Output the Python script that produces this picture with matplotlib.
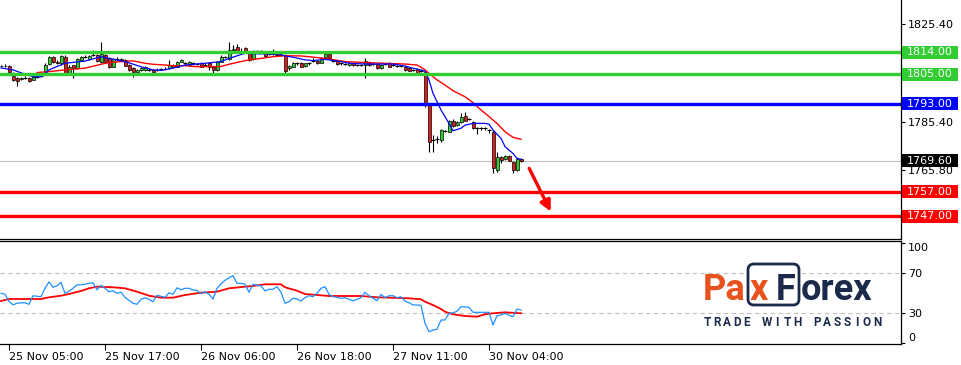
import numpy as np
import matplotlib
matplotlib.use("Agg")
import matplotlib.pyplot as plt
import matplotlib.patches as mpatches
from matplotlib.transforms import blended_transform_factory, IdentityTransform

# ---- data (XAUUSD M30) ----
opens = [
    1808.4, 1808.5, 1808.3, 1804.2, 1803.3, 1803.0, 1803.6, 1803.6, 1802.8, 1804.0,
    1804.1, 1805.2, 1809.2, 1812.2, 1810.0, 1809.5, 1812.2, 1805.6, 1808.6, 1807.4,
    1810.9, 1812.2, 1811.2, 1813.0, 1812.9, 1810.2, 1812.9, 1811.5, 1808.1, 1811.3,
    1811.2, 1810.9, 1808.8, 1807.5, 1806.0, 1806.6, 1806.9, 1806.8, 1806.8, 1806.8,
    1807.0, 1807.2, 1807.5, 1808.8, 1808.1, 1810.2, 1809.5, 1808.8, 1809.6, 1809.1,
    1809.5, 1809.0, 1809.5, 1808.1, 1806.8, 1810.2, 1812.0, 1811.3, 1815.0, 1816.3,
    1814.3, 1815.6, 1814.3, 1811.3, 1814.5, 1814.4, 1813.6, 1813.3, 1813.3, 1813.0,
    1812.9, 1812.9, 1807.6, 1808.1, 1809.5, 1809.8, 1808.4, 1809.5, 1810.6, 1810.6,
    1809.8, 1812.2, 1813.3, 1810.6, 1810.6, 1809.5, 1809.2, 1808.8, 1809.8, 1808.8,
    1808.8, 1808.8, 1810.2, 1809.2, 1809.2, 1807.5, 1809.2, 1809.5, 1808.8, 1808.4,
    1808.4, 1808.1, 1807.5, 1806.8, 1807.0, 1806.5, 1806.1, 1792.4, 1778.1, 1778.4,
    1778.1, 1781.9, 1781.5, 1786.0, 1784.2, 1785.6, 1787.9, 1786.6, 1785.6, 1782.9,
    1782.9, 1782.9, 1782.2, 1781.5, 1765.8, 1771.3, 1770.2, 1771.6, 1769.3, 1765.8,
    1770.2]
highs = [
    1809.0, 1809.3, 1808.6, 1805.8, 1803.8, 1804.0, 1804.2, 1804.0, 1804.6, 1804.8,
    1805.6, 1809.6, 1812.6, 1812.6, 1810.8, 1813.0, 1812.8, 1808.6, 1809.0, 1811.6,
    1812.6, 1812.8, 1813.0, 1815.0, 1813.2, 1818.1, 1813.4, 1812.0, 1811.8, 1811.9,
    1811.6, 1811.2, 1809.2, 1807.8, 1807.2, 1808.0, 1808.2, 1807.4, 1807.1, 1807.4,
    1807.6, 1807.8, 1810.9, 1809.4, 1810.6, 1811.3, 1810.2, 1810.6, 1810.0, 1809.6,
    1810.0, 1809.5, 1809.9, 1808.5, 1810.6, 1812.9, 1812.6, 1818.4, 1817.0, 1817.4,
    1815.6, 1816.0, 1814.7, 1814.8, 1815.0, 1814.8, 1814.0, 1813.8, 1815.2, 1813.6,
    1813.5, 1813.4, 1808.8, 1810.2, 1810.1, 1810.2, 1809.8, 1810.0, 1811.6, 1811.0,
    1811.9, 1813.8, 1813.7, 1811.1, 1811.0, 1810.0, 1809.7, 1810.2, 1810.2, 1809.3,
    1809.2, 1811.5, 1810.6, 1809.7, 1809.6, 1809.2, 1809.7, 1809.9, 1809.3, 1808.9,
    1808.8, 1808.5, 1807.9, 1807.2, 1807.4, 1807.0, 1806.5, 1793.0, 1780.2, 1779.8,
    1782.6, 1782.4, 1786.4, 1786.6, 1786.0, 1789.3, 1789.7, 1787.0, 1786.0, 1783.4,
    1783.4, 1783.3, 1782.8, 1782.0, 1773.3, 1771.7, 1772.0, 1772.0, 1769.7, 1770.6,
    1770.6]
lows = [
    1807.8, 1807.9, 1805.4, 1802.2, 1800.4, 1802.5, 1803.0, 1801.8, 1802.5, 1803.4,
    1803.8, 1805.0, 1808.8, 1809.8, 1809.2, 1809.0, 1804.6, 1805.2, 1803.6, 1807.0,
    1810.5, 1811.6, 1810.8, 1812.4, 1810.2, 1809.8, 1809.8, 1807.6, 1807.8, 1810.6,
    1810.4, 1808.2, 1806.4, 1804.0, 1805.6, 1806.2, 1806.5, 1806.2, 1805.4, 1806.2,
    1806.6, 1806.8, 1807.2, 1807.8, 1807.9, 1809.9, 1809.0, 1808.5, 1808.9, 1808.6,
    1807.8, 1808.4, 1806.8, 1805.4, 1806.5, 1809.9, 1811.5, 1811.0, 1814.6, 1813.8,
    1813.6, 1813.8, 1810.4, 1811.0, 1814.0, 1813.8, 1812.2, 1812.8, 1812.8, 1812.5,
    1812.4, 1805.7, 1806.8, 1807.8, 1809.0, 1807.8, 1808.0, 1809.0, 1810.2, 1809.2,
    1809.5, 1811.8, 1811.2, 1810.1, 1808.8, 1809.0, 1808.7, 1808.5, 1808.4, 1808.3,
    1808.4, 1803.4, 1808.4, 1808.8, 1807.1, 1807.2, 1808.8, 1807.8, 1808.4, 1808.0,
    1807.9, 1806.4, 1806.2, 1806.3, 1805.4, 1806.0, 1791.8, 1773.3, 1773.3, 1776.8,
    1777.4, 1781.4, 1781.2, 1783.5, 1783.9, 1785.2, 1785.7, 1786.2, 1782.6, 1780.6,
    1782.0, 1782.1, 1780.9, 1764.5, 1765.1, 1768.6, 1769.9, 1769.4, 1764.5, 1765.4,
    1769.2]
closes = [
    1808.5, 1808.3, 1806.1, 1802.8, 1802.4, 1803.6, 1803.6, 1802.2, 1804.0, 1804.0,
    1805.0, 1808.8, 1812.2, 1810.2, 1809.6, 1812.6, 1805.4, 1808.0, 1807.4, 1811.2,
    1812.2, 1812.2, 1812.6, 1813.0, 1810.5, 1813.2, 1810.2, 1808.1, 1811.3, 1811.3,
    1810.8, 1808.5, 1806.8, 1805.8, 1806.6, 1807.5, 1807.8, 1806.8, 1805.8, 1806.8,
    1807.0, 1807.2, 1808.8, 1808.0, 1810.2, 1810.9, 1809.5, 1810.2, 1809.6, 1809.1,
    1808.1, 1809.0, 1808.1, 1806.8, 1810.2, 1812.2, 1812.0, 1815.0, 1815.2, 1814.3,
    1814.3, 1814.3, 1810.9, 1814.3, 1814.5, 1814.4, 1812.5, 1813.3, 1813.3, 1813.0,
    1812.9, 1806.5, 1808.4, 1809.8, 1809.5, 1808.1, 1809.5, 1809.5, 1810.6, 1809.5,
    1811.5, 1813.3, 1811.5, 1810.6, 1809.2, 1809.5, 1809.2, 1809.8, 1808.8, 1808.8,
    1808.8, 1810.6, 1808.8, 1809.2, 1807.5, 1808.8, 1809.2, 1808.1, 1808.8, 1808.4,
    1808.4, 1806.8, 1806.5, 1806.8, 1805.7, 1806.5, 1793.1, 1777.4, 1778.1, 1778.4,
    1782.2, 1781.9, 1786.0, 1783.8, 1785.6, 1787.6, 1786.0, 1786.6, 1782.9, 1782.9,
    1782.9, 1782.9, 1782.2, 1766.5, 1771.3, 1769.9, 1771.6, 1769.7, 1765.8, 1770.2,
    1769.6]

# moving averages (bar index, price)
ma_fast_bar = [0, 3, 5, 7, 8, 10, 11, 12, 14, 16, 21, 25, 27, 31, 35, 38, 40, 43, 46, 51,
               55, 57, 61, 63, 68, 70, 71, 73, 76, 78, 81, 82, 85, 87, 91, 93, 96, 98, 101, 103,
               106, 107, 108, 110, 112, 113, 115, 116, 118, 121, 122, 123, 125, 126, 128, 129, 130]
ma_fast = [1807.6, 1806.8, 1805.6, 1804.6, 1804.0, 1804.0, 1805.4, 1806.8, 1808.2, 1809.5,
           1810.4, 1812.2, 1811.5, 1810.2, 1808.1, 1806.8, 1806.6, 1807.5, 1808.8, 1809.5,
           1810.2, 1811.5, 1813.6, 1813.4, 1813.3, 1813.1, 1812.5, 1812.0, 1810.9, 1810.6,
           1811.1, 1810.9, 1810.2, 1809.5, 1809.2, 1809.2, 1809.2, 1809.2, 1808.4, 1807.5,
           1806.3, 1802.7, 1797.2, 1790.4, 1784.9, 1781.9, 1782.9, 1784.2, 1784.9, 1784.9,
           1784.6, 1782.2, 1778.8, 1775.4, 1772.6, 1770.6, 1770.2]
ma_slow_bar = [9, 12, 16, 21, 25, 27, 30, 33, 36, 38, 41, 43, 46, 49, 52, 55, 57, 60, 62, 65,
               68, 71, 75, 77, 81, 86, 91, 96, 101, 104, 105, 106, 107, 109, 111, 113, 116, 118,
               120, 122, 124, 126, 128, 130]
ma_slow = [1805.7, 1806.1, 1806.8, 1807.5, 1809.1, 1809.8, 1810.2, 1810.5, 1809.5, 1809.1,
           1808.8, 1808.5, 1808.5, 1808.1, 1808.1, 1808.2, 1809.1, 1810.2, 1810.9, 1811.5,
           1812.2, 1812.6, 1812.5, 1812.2, 1811.5, 1810.2, 1809.8, 1809.5, 1809.2, 1808.8,
           1807.9, 1806.8, 1805.4, 1802.7, 1800.6, 1798.3, 1795.8, 1793.4, 1790.4, 1787.7,
           1784.9, 1781.5, 1779.2, 1778.4]

rsi = [50, 49, 42, 38.5, 40, 40.5, 40.5, 39, 47.5, 47,
       46.6, 55, 61.5, 56, 57.5, 61, 50, 52, 55, 58.5,
       58.5, 59, 60, 60.5, 53.5, 58, 55, 51.5, 52.5, 50,
       51, 46, 43, 40, 39, 44, 45.5, 44, 41.5, 48,
       47, 46, 50.5, 49, 55.5, 53.5, 55, 55, 53.3, 53,
       49.5, 51.6, 49, 44.3, 55, 59.5, 63, 65.5, 67.6, 60,
       60, 59, 51, 59, 58, 57.5, 52.3, 54, 54, 56.6,
       51, 40, 41.6, 45, 44.3, 42.3, 45.6, 47.6, 46.6, 50,
       55, 56.6, 49, 46.6, 46, 45, 45.6, 44, 42.5, 44,
       45.6, 51, 47.6, 45, 42.6, 49, 45.6, 47.6, 47.6, 45.6,
       46.6, 42.3, 40.6, 38.3, 38.3, 38, 20, 11.6, 13.3, 14,
       23.3, 23.3, 30, 30.5, 32, 36.6, 36.3, 36, 31, 31,
       31, 31, 31, 18.3, 27.6, 28.3, 30, 28, 26.6, 34.3,
       33.3]
rsi_ma_bar = [0, 2, 10, 12, 15, 17, 20, 22, 24, 28, 31, 34, 37, 40, 43, 46, 50, 54, 57, 61,
              63, 66, 70, 71, 74, 76, 79, 82, 90, 94, 102, 105, 106, 108, 110, 111, 113, 116,
              119, 121, 123, 126, 130]
rsi_ma = [42.3, 44.3, 44.3, 46, 47.6, 49.3, 52.3, 55, 56.6, 56, 55, 51.6, 47.6, 45.6, 45.6,
          48.3, 50.6, 51.6, 55, 56.6, 57.3, 59, 59, 56, 52.6, 49.3, 48.3, 47.3, 47.3, 46,
          45, 44, 41.6, 38.3, 34.3, 31.6, 29, 27.3, 26.6, 29, 30, 31, 30]

levels_green = [1814.0, 1805.0]
level_blue = 1793.0
levels_red = [1757.0, 1747.0]
last_price = 1769.6
price_ticks = [1825.4, 1785.4, 1765.8]
rsi_ticks = [0, 30, 70, 100]
time_bars = [2, 26, 50, 74, 98, 122]
time_labels = ["25 Nov 05:00", "25 Nov 17:00", "26 Nov 06:00",
               "26 Nov 18:00", "27 Nov 11:00", "30 Nov 04:00"]

# ---- figure ----
W, H = 961, 365
fig = plt.figure(figsize=(W / 100, H / 100), dpi=100)


def fx(x):
    return x / W


def fy(y):
    return 1 - y / H


GREEN = "#32CD32"
RED = "#FF0000"
BLUE = "#0000FF"
FS = 8

ax = fig.add_axes([0, fy(238.5), 901 / W, 238.5 / H])
ax2 = fig.add_axes([0, fy(344), 901 / W, (344 - 240.7) / H])

o = np.array(opens)
hi = np.array(highs)
lo = np.array(lows)
c = np.array(closes)
x = np.arange(len(c))
up = c > o
dn = c < o
flat = c == o

ax.axhline(last_price, color="#C0C0C0", lw=0.8, zorder=1)
ax.vlines(x, lo, hi, color="black", lw=0.8, zorder=2)
ax.bar(x[up], (c - o)[up], bottom=o[up], width=0.75, color=GREEN,
       edgecolor="black", linewidth=0.5, zorder=3)
ax.bar(x[dn], (o - c)[dn], bottom=c[dn], width=0.75, color="#D81E1E",
       edgecolor="black", linewidth=0.5, zorder=3)
ax.hlines(c[flat], x[flat] - 0.45, x[flat] + 0.45, color="black", lw=0.8, zorder=3)

ax.plot(ma_slow_bar, ma_slow, color=RED, lw=1.0, zorder=4)
ax.plot(ma_fast_bar, ma_fast, color=BLUE, lw=0.9, zorder=4)

for lv in levels_green:
    ax.axhline(lv, color=GREEN, lw=2.4, zorder=5)
ax.axhline(level_blue, color=BLUE, lw=2.4, zorder=5)
for lv in levels_red:
    ax.axhline(lv, color=RED, lw=2.4, zorder=5)

ax.set_xlim(-0.25, 225)
ax.set_ylim(1737.8, 1835.4)
ax.set_xticks([])
ax.yaxis.tick_right()
ax.set_yticks(price_ticks)
ax.set_yticklabels([f"{p:.2f}" for p in price_ticks])
ax.tick_params(axis="y", direction="out", length=3, width=0.8, pad=2,
               labelsize=FS, colors="black")
for s in ["left", "top"]:
    ax.spines[s].set_visible(False)
for s in ["right", "bottom"]:
    ax.spines[s].set_linewidth(0.9)

# price tags on the right scale
trans = blended_transform_factory(ax.transAxes, ax.transData)
unit_px = 238.5 / (1835.4 - 1737.8)


def tag(price, color):
    hgt = 13 / unit_px
    ax.add_patch(mpatches.Rectangle((902 / 901, price - hgt / 2), 56 / 901, hgt,
                                    transform=trans, facecolor=color, edgecolor="none",
                                    clip_on=False, zorder=6))
    ax.text(930 / 901, price, f"{price:.2f}", transform=trans, ha="center", va="center",
            color="white", fontsize=FS, clip_on=False, zorder=7)


for lv in levels_green:
    tag(lv, GREEN)
tag(level_blue, BLUE)
for lv in levels_red:
    tag(lv, RED)
tag(last_price, "black")

ax.annotate("", xy=(137.75, 1747.8), xytext=(131.75, 1767.5),
            arrowprops=dict(arrowstyle="-|>", color=RED, lw=2.4, mutation_scale=16),
            annotation_clip=False, zorder=6)

# ---- RSI panel ----
for lv in [70, 30]:
    ax2.axhline(lv, color="#C0C0C0", lw=0.8, ls=(0, (4, 3)), zorder=1)
ax2.plot(x, rsi, color="#1E90FF", lw=0.9, zorder=3)
ax2.plot(rsi_ma_bar, rsi_ma, color=RED, lw=1.3, zorder=2)
ax2.set_xlim(-0.25, 225)
ax2.set_ylim(-0.7, 102.6)
ax2.yaxis.tick_right()
ax2.set_yticks(rsi_ticks)
ax2.set_yticklabels([str(v) for v in rsi_ticks])
ax2.tick_params(axis="y", direction="out", length=3, width=0.8, pad=2, labelsize=FS)
for lbl, v in zip(ax2.get_yticklabels(), rsi_ticks):
    if v == 100:
        lbl.set_va("top")
    elif v == 0:
        lbl.set_va("bottom")
ax2.set_xticks(time_bars)
ax2.set_xticklabels(time_labels)
ax2.tick_params(axis="x", direction="out", length=4, width=0.8, pad=2, labelsize=FS)
for lbl in ax2.get_xticklabels():
    lbl.set_ha("left")
ax2.spines["left"].set_visible(False)
for s in ["right", "bottom", "top"]:
    ax2.spines[s].set_linewidth(0.9)

# ---- PaxForex watermark ----
NAVY = "#1B2A4A"
ORANGE = "#E8521E"
fig.add_artist(mpatches.FancyBboxPatch((748, H - 305), 51, 41,
                                       boxstyle="round,pad=0,rounding_size=6",
                                       transform=IdentityTransform(), facecolor="white",
                                       edgecolor=NAVY, lw=2.0))
logo_font = dict(fontsize=26, fontweight="bold", family="Roboto", va="baseline", ha="left")
fig.text(fx(703), fy(300), "Pa", color=ORANGE, **logo_font)
fig.text(fx(750), fy(300), "x", color=ORANGE, **logo_font)
fig.text(fx(776), fy(300), "F", color=NAVY, **logo_font)
fig.text(fx(801), fy(300), "orex", color=NAVY, **logo_font)
slogan = "TRADE WITH PASSION"
for k, ch in enumerate(slogan):
    fig.text(fx(707 + k * 10.0), fy(322.5), ch, color=NAVY, fontsize=8.5,
             fontweight="bold", family="Roboto", ha="center", va="center")

fig.savefig("out.png", dpi=100)
